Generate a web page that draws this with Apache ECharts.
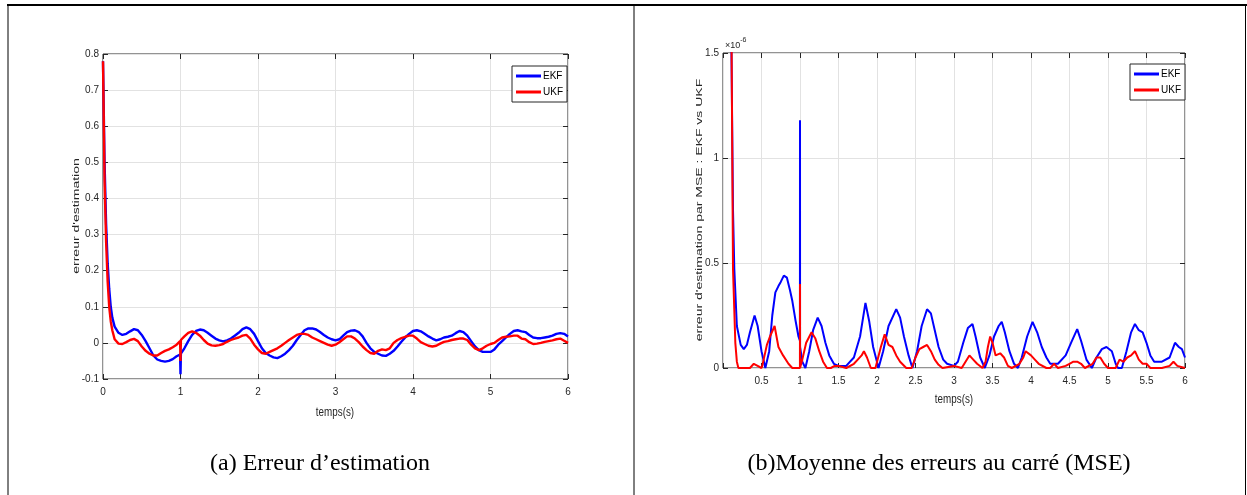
<!DOCTYPE html>
<html>
<head>
<meta charset="utf-8">
<script src="https://cdn.jsdelivr.net/npm/echarts@6/dist/echarts.min.js"></script>
<style>
  html, body { margin: 0; padding: 0; background: #fff; }
  #chart { width: 1247px; height: 495px; }
</style>
</head>
<body>
<div id="chart"></div>
<script>
// (a) estimation error over time, [t, error]
const errEkf = [
  [0,0.78],[0.02,0.5],[0.04,0.33],[0.06,0.22],[0.08,0.15],[0.1,0.1],[0.12,0.07],[0.15,0.045],
  [0.2,0.028],[0.25,0.022],[0.3,0.025],[0.35,0.032],[0.4,0.038],[0.45,0.035],[0.5,0.022],
  [0.55,0.005],[0.6,-0.015],[0.65,-0.035],[0.7,-0.046],[0.75,-0.05],[0.8,-0.052],[0.85,-0.05],
  [0.9,-0.045],[0.95,-0.037],[0.995,-0.032],[1.0,-0.087],[1.005,-0.03],[1.05,-0.015],[1.1,0.005],
  [1.15,0.022],[1.2,0.033],[1.25,0.037],[1.3,0.035],[1.35,0.028],[1.4,0.02],[1.45,0.012],
  [1.5,0.007],[1.55,0.004],[1.6,0.007],[1.65,0.012],[1.7,0.02],[1.75,0.028],[1.8,0.038],
  [1.85,0.043],[1.9,0.038],[1.95,0.025],[2.0,0.005],[2.05,-0.015],[2.1,-0.028],[2.15,-0.035],
  [2.2,-0.04],[2.25,-0.042],[2.3,-0.037],[2.35,-0.03],[2.4,-0.02],[2.45,-0.008],[2.5,0.008],
  [2.55,0.022],[2.6,0.035],[2.65,0.04],[2.7,0.04],[2.75,0.037],[2.8,0.03],[2.85,0.022],
  [2.9,0.015],[2.95,0.01],[3.0,0.007],[3.05,0.01],[3.1,0.02],[3.15,0.03],[3.2,0.034],
  [3.25,0.035],[3.3,0.03],[3.35,0.018],[3.4,0.0],[3.45,-0.015],[3.5,-0.025],[3.55,-0.03],
  [3.6,-0.035],[3.65,-0.036],[3.7,-0.03],[3.75,-0.022],[3.8,-0.01],[3.85,0.003],[3.9,0.015],
  [3.95,0.025],[4.0,0.033],[4.05,0.035],[4.1,0.032],[4.15,0.025],[4.2,0.018],[4.25,0.012],
  [4.3,0.007],[4.35,0.01],[4.4,0.015],[4.45,0.017],[4.5,0.02],[4.55,0.027],[4.6,0.033],
  [4.65,0.03],[4.7,0.02],[4.75,0.005],[4.8,-0.01],[4.85,-0.02],[4.9,-0.025],[4.95,-0.025],
  [5.0,-0.025],[5.05,-0.018],[5.1,-0.005],[5.15,0.005],[5.2,0.015],[5.25,0.025],[5.3,0.033],
  [5.35,0.035],[5.4,0.032],[5.45,0.03],[5.5,0.022],[5.55,0.015],[5.6,0.013],[5.65,0.013],
  [5.7,0.015],[5.75,0.017],[5.8,0.02],[5.85,0.025],[5.9,0.027],[5.95,0.025],[6.0,0.018]
];
const errUkf = [
  [0,0.78],[0.02,0.45],[0.04,0.28],[0.06,0.17],[0.08,0.1],[0.1,0.06],[0.12,0.035],[0.15,0.01],
  [0.2,-0.002],[0.25,-0.003],[0.3,0.002],[0.35,0.008],[0.4,0.011],[0.45,0.005],[0.5,-0.01],
  [0.55,-0.022],[0.6,-0.03],[0.65,-0.035],[0.7,-0.035],[0.75,-0.028],[0.8,-0.022],[0.85,-0.018],
  [0.9,-0.012],[0.95,-0.005],[0.995,0.005],[1.0,-0.05],[1.005,0.008],[1.05,0.018],[1.1,0.028],
  [1.15,0.032],[1.2,0.028],[1.25,0.02],[1.3,0.008],[1.35,-0.002],[1.4,-0.007],[1.45,-0.008],
  [1.5,-0.006],[1.55,-0.003],[1.6,0.003],[1.65,0.008],[1.7,0.012],[1.75,0.015],[1.8,0.02],
  [1.85,0.022],[1.9,0.012],[1.95,-0.005],[2.0,-0.018],[2.05,-0.028],[2.1,-0.03],[2.15,-0.025],
  [2.2,-0.02],[2.25,-0.015],[2.3,-0.008],[2.35,0.0],[2.4,0.008],[2.45,0.015],[2.5,0.022],
  [2.55,0.025],[2.6,0.025],[2.65,0.022],[2.7,0.015],[2.75,0.01],[2.8,0.005],[2.85,0.0],
  [2.9,-0.005],[2.95,-0.008],[3.0,-0.005],[3.05,0.002],[3.1,0.01],[3.15,0.018],[3.2,0.018],
  [3.25,0.012],[3.3,0.002],[3.35,-0.01],[3.4,-0.02],[3.45,-0.028],[3.5,-0.03],[3.55,-0.022],
  [3.6,-0.018],[3.65,-0.02],[3.7,-0.015],[3.75,0.0],[3.8,0.008],[3.85,0.013],[3.9,0.017],
  [3.95,0.02],[4.0,0.02],[4.05,0.012],[4.1,0.002],[4.15,-0.003],[4.2,-0.008],[4.25,-0.01],
  [4.3,-0.008],[4.35,-0.002],[4.4,0.003],[4.45,0.005],[4.5,0.008],[4.55,0.01],[4.6,0.012],
  [4.65,0.012],[4.7,0.008],[4.75,-0.005],[4.8,-0.015],[4.85,-0.02],[4.9,-0.015],[4.95,-0.008],
  [5.0,-0.003],[5.05,0.0],[5.1,0.008],[5.15,0.015],[5.2,0.017],[5.25,0.018],[5.3,0.02],
  [5.35,0.02],[5.4,0.012],[5.45,0.01],[5.5,0.002],[5.55,-0.003],[5.6,-0.002],[5.65,0.0],
  [5.7,0.003],[5.75,0.005],[5.8,0.007],[5.85,0.01],[5.9,0.012],[5.95,0.006],[6.0,0.0]
];

// (b) mean squared error, [t, MSE in units of 1e-6]
const mseEkf = [
  [0.09,6],[0.11,1.5],[0.13,0.75],[0.147,0.47],[0.18,0.2],[0.23,0.11],[0.27,0.09],[0.31,0.11],
  [0.35,0.17],[0.41,0.25],[0.45,0.2],[0.5,0.08],[0.55,0],[0.6,0.08],[0.64,0.25],[0.68,0.36],
  [0.72,0.39],[0.75,0.41],[0.79,0.44],[0.83,0.43],[0.87,0.37],[0.9,0.32],[0.94,0.23],[0.98,0.15],
  [0.999,0.13],[1.0,1.18],[1.001,0.1],[1.03,0.03],[1.07,0],[1.12,0.08],[1.17,0.18],[1.23,0.24],
  [1.28,0.2],[1.33,0.12],[1.38,0.06],[1.44,0.02],[1.5,0.01],[1.6,0.01],[1.7,0.05],[1.78,0.15],
  [1.85,0.31],[1.9,0.22],[1.95,0.1],[2.02,0],[2.08,0.08],[2.15,0.2],[2.25,0.28],[2.3,0.24],
  [2.35,0.15],[2.41,0.06],[2.46,0],[2.52,0.08],[2.58,0.2],[2.65,0.28],[2.7,0.26],[2.75,0.18],
  [2.8,0.1],[2.86,0.04],[2.91,0.02],[3.0,0.01],[3.05,0.03],[3.12,0.12],[3.18,0.19],[3.24,0.21],
  [3.28,0.15],[3.34,0.05],[3.4,0],[3.46,0.06],[3.52,0.15],[3.58,0.2],[3.62,0.22],[3.66,0.17],
  [3.72,0.08],[3.78,0.02],[3.83,0],[3.88,0.05],[3.95,0.15],[4.02,0.22],[4.08,0.17],[4.14,0.1],
  [4.2,0.05],[4.25,0.02],[4.35,0.02],[4.45,0.06],[4.52,0.12],[4.6,0.185],[4.65,0.13],[4.72,0.04],
  [4.79,0],[4.85,0.05],[4.92,0.09],[4.98,0.1],[5.05,0.08],[5.1,0.02],[5.13,0],[5.18,0],
  [5.24,0.08],[5.3,0.17],[5.35,0.21],[5.4,0.18],[5.45,0.17],[5.5,0.12],[5.55,0.06],[5.6,0.03],
  [5.7,0.03],[5.8,0.05],[5.87,0.12],[5.92,0.1],[5.96,0.09],[6.0,0.05]
];
const mseUkf = [
  [0.09,6],[0.112,1.5],[0.125,0.75],[0.13,0.47],[0.16,0.12],[0.18,0.03],[0.2,0],[0.35,0],
  [0.4,0.02],[0.45,0.01],[0.5,0],[0.51,0.01],[0.57,0.11],[0.61,0.15],[0.67,0.2],[0.72,0.1],
  [0.78,0.06],[0.85,0.02],[0.9,0],[0.999,0],[1.0,0.4],[1.001,0],[1.03,0.04],[1.08,0.12],
  [1.15,0.17],[1.2,0.14],[1.25,0.08],[1.3,0.03],[1.35,0],[1.4,0],[1.45,0.01],[1.5,0.01],
  [1.6,0],[1.7,0.02],[1.75,0.04],[1.8,0.06],[1.83,0.08],[1.87,0.05],[1.92,0],[1.98,0],
  [2.05,0.1],[2.1,0.16],[2.15,0.11],[2.2,0.1],[2.25,0.06],[2.3,0.03],[2.38,0],[2.45,0],
  [2.5,0.05],[2.55,0.09],[2.6,0.1],[2.65,0.11],[2.7,0.08],[2.75,0.04],[2.8,0.015],[2.85,0],
  [3.0,0.01],[3.1,0],[3.15,0.03],[3.2,0.06],[3.25,0.04],[3.3,0.02],[3.37,0],[3.41,0.03],
  [3.44,0.1],[3.47,0.15],[3.5,0.12],[3.54,0.06],[3.6,0.07],[3.65,0.05],[3.7,0.01],[3.75,0],
  [3.85,0.02],[3.9,0.05],[3.93,0.08],[4.0,0.06],[4.05,0.04],[4.1,0.02],[4.2,0],[4.25,0],
  [4.3,0.02],[4.35,0],[4.45,0.01],[4.5,0.02],[4.55,0.03],[4.6,0.03],[4.65,0.02],[4.7,0],
  [4.8,0.02],[4.85,0.05],[4.9,0.05],[4.95,0.02],[5.0,0],[5.1,0],[5.15,0.04],[5.2,0.03],
  [5.25,0.05],[5.3,0.06],[5.35,0.08],[5.4,0.04],[5.45,0.02],[5.5,0.02],[5.55,0],[5.7,0],
  [5.8,0.01],[5.85,0.03],[5.9,0.01],[6.0,0]
];

const seriesNames = ['EKF', 'UKF'];
const seriesColors = ['#0000ff', '#ff0000'];
const xTitle = 'temps(s)';
const yTitleA = "erreur d'estimation";
const yTitleB = "erreur d'estimation par MSE : EKF vs UKF";
const captionA = '(a) Erreur d\u2019estimation';
const captionB = '(b)Moyenne des erreurs au carré (MSE)';

const AX = '#262626';
const GRIDLINE = '#e2e2e2';
const FONT = 'Liberation Sans, Arial, sans-serif';
const SERIF = 'Liberation Serif, Times New Roman, serif';

function fmt(v) {
  if (Math.abs(v) < 1e-9) return '0';
  return String(Math.round(v * 10) / 10);
}

const tick = { show: true, inside: true, length: 5, lineStyle: { color: AX } };

function mainX(gi, min, max, interval, hideZero) {
  return {
    type: 'value', gridIndex: gi, min: min, max: max, interval: interval,
    axisLine: { show: false, onZero: false },
    axisTick: tick,
    axisLabel: { color: AX, fontSize: 10, fontFamily: FONT, margin: 8,
      formatter: v => (hideZero && Math.abs(v) < 1e-9) ? '' : fmt(v) },
    splitLine: { show: true, lineStyle: { color: GRIDLINE, width: 1 } }
  };
}
function mirrorX(gi, min, max, interval) {
  return {
    type: 'value', gridIndex: gi, position: 'top', min: min, max: max, interval: interval,
    axisLine: { show: false, onZero: false },
    axisTick: tick,
    axisLabel: { show: false }, splitLine: { show: false }
  };
}
function mainY(gi, min, max, interval) {
  return {
    type: 'value', gridIndex: gi, min: min, max: max, interval: interval,
    axisLine: { show: false, onZero: false },
    axisTick: tick,
    axisLabel: { color: AX, fontSize: 10, fontFamily: FONT, margin: 4, formatter: fmt },
    splitLine: { show: true, lineStyle: { color: GRIDLINE, width: 1 } }
  };
}
function mirrorY(gi, min, max, interval) {
  return {
    type: 'value', gridIndex: gi, position: 'right', min: min, max: max, interval: interval,
    axisLine: { show: false, onZero: false },
    axisTick: tick,
    axisLabel: { show: false }, splitLine: { show: false }
  };
}
function line(name, data, color, xi, yi, width) {
  return {
    type: 'line', name: name, data: data, xAxisIndex: xi, yAxisIndex: yi,
    showSymbol: false, symbol: 'none', clip: true, z: name === 'UKF' ? 3 : 2,
    lineStyle: { color: color, width: width }, itemStyle: { color: color }
  };
}
function legendAt(left, top) {
  return {
    data: seriesNames, orient: 'vertical', left: left, top: top,
    icon: 'rect', itemWidth: 25, itemHeight: 3, itemGap: 6,
    padding: [5, 4, 5, 4], backgroundColor: '#fff',
    borderColor: AX, borderWidth: 1, selectedMode: false,
    textStyle: { color: '#000', fontSize: 10, fontFamily: FONT, padding: [0, 0, 0, -3] }
  };
}
// axis titles, condensed like the rest of the plot text
function xName(cx, cy) {
  return { type: 'text', x: cx, y: cy, scaleX: 0.82, z: 10, style: {
    text: xTitle, fill: AX, fontSize: 12, fontFamily: FONT, align: 'center', verticalAlign: 'middle' } };
}
function yName(text, cx, cy) {
  return { type: 'text', x: cx, y: cy, rotation: Math.PI / 2, scaleY: 0.62, z: 10, style: {
    text: text, fill: AX, fontSize: 14, fontFamily: FONT, align: 'center', verticalAlign: 'middle' } };
}

const chart = echarts.init(document.getElementById('chart'), null, { renderer: 'canvas' });
chart.setOption({
  animation: false,
  backgroundColor: '#fff',
  grid: [
    { left: 103, top: 54, width: 465, height: 325, show: true, borderColor: AX, borderWidth: 1, backgroundColor: 'transparent' },
    { left: 723, top: 53, width: 462, height: 315, show: true, borderColor: AX, borderWidth: 1, backgroundColor: 'transparent' }
  ],
  xAxis: [
    mainX(0, 0, 6, 1, false),
    mainX(1, 0, 6, 0.5, true),
    mirrorX(0, 0, 6, 1),
    mirrorX(1, 0, 6, 0.5)
  ],
  yAxis: [
    mainY(0, -0.1, 0.8, 0.1),
    mainY(1, 0, 1.5, 0.5),
    mirrorY(0, -0.1, 0.8, 0.1),
    mirrorY(1, 0, 1.5, 0.5)
  ],
  legend: [legendAt(512, 66), legendAt(1130, 64)],
  series: [
    line(seriesNames[0], errEkf, seriesColors[0], 0, 0, 2.4),
    line(seriesNames[1], errUkf, seriesColors[1], 0, 0, 2.4),
    line(seriesNames[0], mseEkf, seriesColors[0], 1, 1, 2),
    line(seriesNames[1], mseUkf, seriesColors[1], 1, 1, 2)
  ],
  graphic: [
    // outer table frame
    { type: 'line', shape: { x1: 7, y1: 5, x2: 1247, y2: 5 }, style: { stroke: '#000', lineWidth: 2 } },
    { type: 'line', shape: { x1: 8, y1: 5, x2: 8, y2: 495 }, style: { stroke: '#000', lineWidth: 1 } },
    { type: 'line', shape: { x1: 634, y1: 5, x2: 634, y2: 495 }, style: { stroke: '#000', lineWidth: 1 } },
    { type: 'line', shape: { x1: 1245.5, y1: 5, x2: 1245.5, y2: 495 }, style: { stroke: '#000', lineWidth: 1 } },
    // axis titles
    xName(335, 413), xName(954, 400),
    yName(yTitleA, 77, 216), yName(yTitleB, 700, 210),
    // axis exponent
    { type: 'text', left: 725, top: 37, style: {
        text: '{a|\u00d710}{b|-6}', fill: AX,
        rich: { a: { fontSize: 9, fontFamily: FONT, fill: AX, verticalAlign: 'bottom' },
                b: { fontSize: 7, fontFamily: FONT, fill: AX, verticalAlign: 'top', padding: [0, 0, 6, 0] } } } },
    // captions
    { type: 'text', x: 320, y: 464, style: { text: captionA, fill: '#000', fontSize: 24,
        fontFamily: SERIF, align: 'center', verticalAlign: 'middle' } },
    { type: 'text', x: 939, y: 464, style: { text: captionB, fill: '#000', fontSize: 24,
        fontFamily: SERIF, align: 'center', verticalAlign: 'middle' } }
  ]
});
</script>
</body>
</html>
